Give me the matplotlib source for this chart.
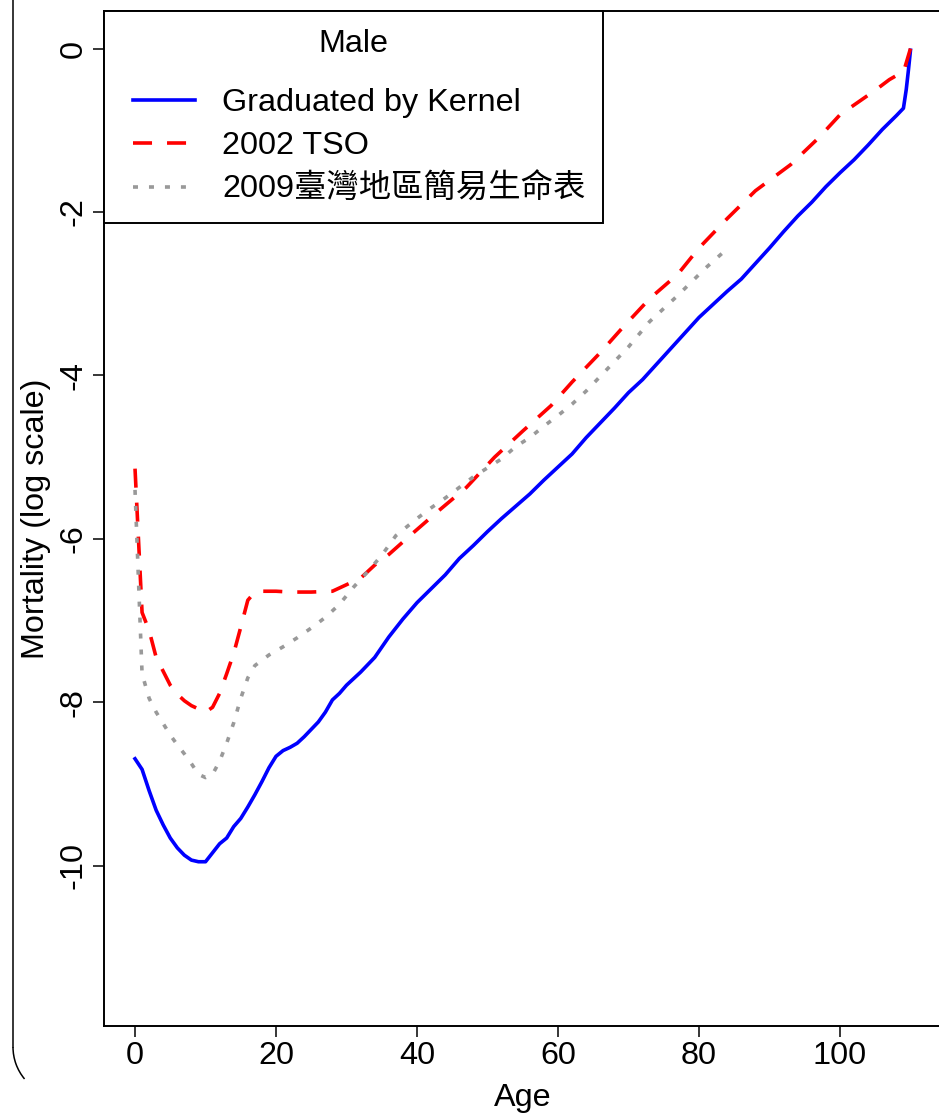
import numpy as np
import matplotlib
matplotlib.use('Agg')
import matplotlib.pyplot as plt
from matplotlib.patches import Arc
from matplotlib.lines import Line2D
from matplotlib.legend_handler import HandlerLine2D

plt.rcParams['font.family'] = ['Liberation Sans', 'Noto Sans CJK TC', 'DejaVu Sans']
plt.rcParams['lines.scale_dashes'] = False

# Graduated by Kernel (log mortality)
kernel_age = [0, 1, 2, 3, 4, 5, 6, 7, 8, 9, 10, 11, 12, 13, 14, 15, 16, 17, 18, 19,
              20, 21, 22, 23, 24, 25, 26, 27, 28, 29, 30, 32, 34, 36, 38, 40, 42, 44,
              46, 48, 50, 52, 54, 56, 58, 60, 62, 64, 66, 68, 70, 72, 74, 76, 78, 80,
              82, 84, 86, 88, 90, 92, 94, 96, 98, 100, 102, 104, 106, 108, 109,
              109.4, 109.7, 110]
kernel_log = [-8.69, -8.82, -9.08, -9.32, -9.50, -9.66, -9.78, -9.87, -9.93, -9.95,
              -9.95, -9.84, -9.73, -9.66, -9.52, -9.42, -9.28, -9.13, -8.97, -8.80,
              -8.66, -8.59, -8.55, -8.50, -8.42, -8.33, -8.24, -8.12, -7.97, -7.89,
              -7.79, -7.63, -7.45, -7.20, -6.98, -6.78, -6.61, -6.44, -6.24, -6.08,
              -5.91, -5.75, -5.60, -5.45, -5.28, -5.12, -4.96, -4.76, -4.58, -4.40,
              -4.21, -4.05, -3.86, -3.67, -3.48, -3.29, -3.13, -2.97, -2.82, -2.63,
              -2.44, -2.24, -2.05, -1.88, -1.69, -1.52, -1.36, -1.18, -0.99, -0.82,
              -0.73, -0.50, -0.27, -0.02]

# 2002 TSO
tso_age = [0, 1, 2, 3, 4, 5, 6, 7, 8, 9, 10, 11, 12, 13, 14, 15, 16, 17, 18, 20,
           22, 25, 28, 30, 32, 34, 36, 39, 43, 47, 51, 55, 59, 62, 66, 69, 73, 77,
           80, 84, 88, 93, 97, 100, 105, 107, 108, 109, 110]
tso_log = [-5.14, -6.90, -7.12, -7.45, -7.62, -7.79, -7.90, -7.98, -8.04, -8.08,
           -8.12, -8.06, -7.89, -7.65, -7.40, -7.08, -6.75, -6.65, -6.64, -6.64,
           -6.65, -6.65, -6.64, -6.56, -6.48, -6.32, -6.19, -5.96, -5.66, -5.37,
           -5.00, -4.68, -4.37, -4.08, -3.72, -3.43, -3.06, -2.76, -2.44, -2.08,
           -1.74, -1.42, -1.09, -0.81, -0.51, -0.38, -0.33, -0.29, 0.0]

# 2009 Taiwan abridged life table
tw_age = [0, 1, 2, 3, 4, 5, 6, 7, 8, 9, 10, 11, 12, 13, 14, 15, 16, 17, 19, 21,
          23, 25, 27, 29, 31, 33, 35, 37, 40, 42, 44, 46, 48, 50, 52, 54, 56, 58,
          60, 62, 64, 66, 70, 73, 77, 81, 84]
tw_log = [-5.40, -7.65, -7.95, -8.12, -8.26, -8.40, -8.52, -8.63, -8.75, -8.88,
          -8.92, -8.88, -8.72, -8.50, -8.25, -7.95, -7.70, -7.55, -7.42, -7.32,
          -7.21, -7.09, -6.96, -6.80, -6.59, -6.40, -6.20, -5.96, -5.75, -5.62,
          -5.50, -5.37, -5.24, -5.13, -5.02, -4.87, -4.76, -4.62, -4.49, -4.35,
          -4.19, -4.01, -3.65, -3.34, -3.02, -2.68, -2.45]

labels = ['Graduated by Kernel', '2002 TSO', '2009臺灣地區簡易生命表']
x_ticks = [0, 20, 40, 60, 80, 100]
y_ticks = [0, -2, -4, -6, -8, -10]

FS = 23.3
W, H = 939, 1115
fig = plt.figure(figsize=(W / 100, H / 100), dpi=100)
ax = fig.add_axes([104 / W, (H - 1026) / H, 837.5 / W, 1015 / H])

ax.plot(kernel_age, kernel_log, color='#0000ff', lw=2.6, label=labels[0])
ax.plot(tso_age, tso_log, color='#ff0000', lw=2.6, dashes=(13.7, 10.8), label=labels[1])
ax.plot(tw_age, tw_log, color='#999999', lw=2.6, dashes=(3.6, 7.9), label=labels[2])

ax.set_xlim(-4.4, 114.4)
ax.set_ylim(-11.96, 0.46)
ax.set_xticks(x_ticks)
ax.set_yticks(y_ticks)
ax.set_yticklabels([str(v) for v in y_ticks], rotation=90, va='center')
ax.tick_params(length=8, width=1.1, labelsize=FS, direction='out')
ax.tick_params(axis='x', pad=2.5)
ax.tick_params(axis='y', pad=3)
for s in ax.spines.values():
    s.set_linewidth(1.4)

ax.set_xlabel('Age', fontsize=FS, va='center')
ax.xaxis.set_label_coords(0.5, -(1098 - 1026) / 1015)
ax.set_ylabel('Mortality (log scale)', fontsize=FS, va='center')
ax.yaxis.set_label_coords(-(104 - 36) / 837.5, 0.5)

leg = ax.legend(title='Male', loc='upper left', bbox_to_anchor=(0, 1),
                borderaxespad=0, fancybox=False, edgecolor='black', framealpha=1,
                fontsize=FS, title_fontsize=FS, handlelength=2.25,
                handletextpad=0.85, borderpad=0.55, labelspacing=0.394,
                handler_map={Line2D: HandlerLine2D(xpad=0.34)})
leg.get_frame().set_linewidth(1.4)
leg._legend_box.sep = 21.3

# outer rounded frame (cropped)
fig.add_artist(Line2D([13 / W, 13 / W], [1.0, (H - 1047) / H], transform=fig.transFigure,
                      color='black', lw=1.1))
fig.add_artist(Arc((63 / W, (H - 1047) / H), 100 / W, 100 / H, theta1=180, theta2=215,
                   transform=fig.transFigure, color='black', lw=1.1))

fig.savefig('out.png', dpi=100)
